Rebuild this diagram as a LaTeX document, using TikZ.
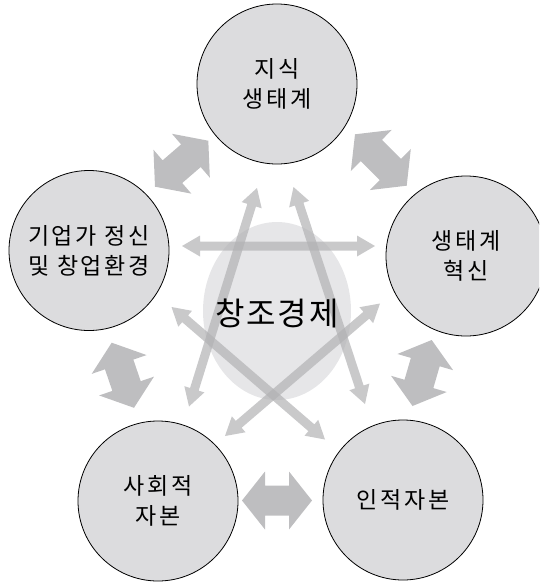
\documentclass[tikz,border=0pt]{standalone}
\usepackage{fontspec}
\setmainfont{Noto Sans CJK KR}
\newfontfamily\krfont[LetterSpace=12]{Noto Sans CJK KR}
\newfontfamily\krtitle[LetterSpace=6]{Noto Sans CJK KR}
\usetikzlibrary{calc,shapes.geometric}
\definecolor{circfill}{RGB}{220,220,222}
\definecolor{midfill}{RGB}{230,230,232}
\definecolor{fatgray}{RGB}{190,190,192}
\definecolor{thingray}{RGB}{178,178,180}
% #1 start, #2 end, #3 shaft half width, #4 head half width, #5 head length, #6 style
\newcommand\dblarrow[6]{%
  \fill[#6] (#1) -- ($(#1)!#5!(#2)!#4!90:(#2)$) -- ($(#1)!#5!(#2)!#3!90:(#2)$)
    -- ($(#2)!#5!(#1)!#3!-90:(#1)$) -- ($(#2)!#5!(#1)!#4!-90:(#1)$) -- (#2)
    -- ($(#2)!#5!(#1)!#4!90:(#1)$) -- ($(#2)!#5!(#1)!#3!90:(#1)$)
    -- ($(#1)!#5!(#2)!#3!-90:(#2)$) -- ($(#1)!#5!(#2)!#4!-90:(#2)$) -- cycle;}
\tikzset{
  circ/.style={circle, draw=black, line width=0.8pt, fill=circfill,
    minimum size=160pt, inner sep=0pt, align=center,
    font=\fontsize{23}{30}\krfont},
  thinarrow/.style={thingray, opacity=0.7},
  fatarrow/.style={fatgray}
}
\begin{document}
\begin{tikzpicture}[x=1pt,y=-1pt]
\useasboundingbox (0,0) rectangle (539,584);
\clip (0,0) rectangle (539,584);
% central area
\node[ellipse, fill=midfill, minimum width=148pt, minimum height=178pt, inner sep=0pt] (core) at (277,311) {};
% thin arrow end points
\coordinate (t1a) at (182,246);   \coordinate (t1b) at (375,246);
\coordinate (t2a) at (257,188);   \coordinate (t2b) at (189,406.5);
\coordinate (t3a) at (293.5,187); \coordinate (t3b) at (365,404);
\coordinate (t4a) at (171.5,307); \coordinate (t4b) at (325,439.5);
\coordinate (t5a) at (380,303.5); \coordinate (t5b) at (225,436);
\dblarrow{t1a}{t1b}{4.5pt}{10.5pt}{18pt}{thinarrow}
\dblarrow{t2a}{t2b}{4.5pt}{10.5pt}{18pt}{thinarrow}
\dblarrow{t3a}{t3b}{4.5pt}{10.5pt}{18pt}{thinarrow}
\dblarrow{t4a}{t4b}{4.5pt}{10.5pt}{18pt}{thinarrow}
\dblarrow{t5a}{t5b}{4.5pt}{10.5pt}{18pt}{thinarrow}
% fat arrow end points
\coordinate (f1a) at (155,186.7);   \coordinate (f1b) at (208.3,140.7);
\coordinate (f2a) at (355,134.3);   \coordinate (f2b) at (406.7,185.7);
\coordinate (f3a) at (111.7,342.7); \coordinate (f3b) at (134,407.8);
\coordinate (f4a) at (431.7,340);   \coordinate (f4b) at (412.5,406);
\coordinate (f5a) at (242,500.5);   \coordinate (f5b) at (312,500.5);
\dblarrow{f1a}{f1b}{15pt}{29pt}{23pt}{fatarrow}
\dblarrow{f2a}{f2b}{15pt}{29pt}{23pt}{fatarrow}
\dblarrow{f3a}{f3b}{15pt}{29pt}{23pt}{fatarrow}
\dblarrow{f4a}{f4b}{15pt}{29pt}{23pt}{fatarrow}
\dblarrow{f5a}{f5b}{15pt}{29pt}{23pt}{fatarrow}
% circles
\node[circ] (jisik) at (277,84) {지식\\생태계};
\node[circ] (hyeoksin) at (466,256) {생태계\\혁신};
\node[circ] (gieop) at (89,250.5) {기업가 정신\\및 창업환경};
\node[circ] (sahoe) at (158,501) {사회적\\자본};
\node[circ] (injeok) at (403,500) {인적자본};
% title
\node[font=\fontsize{32}{38}\krtitle, inner sep=0pt] (title) at (277,313.5) {창조경제};
\end{tikzpicture}
\end{document}
